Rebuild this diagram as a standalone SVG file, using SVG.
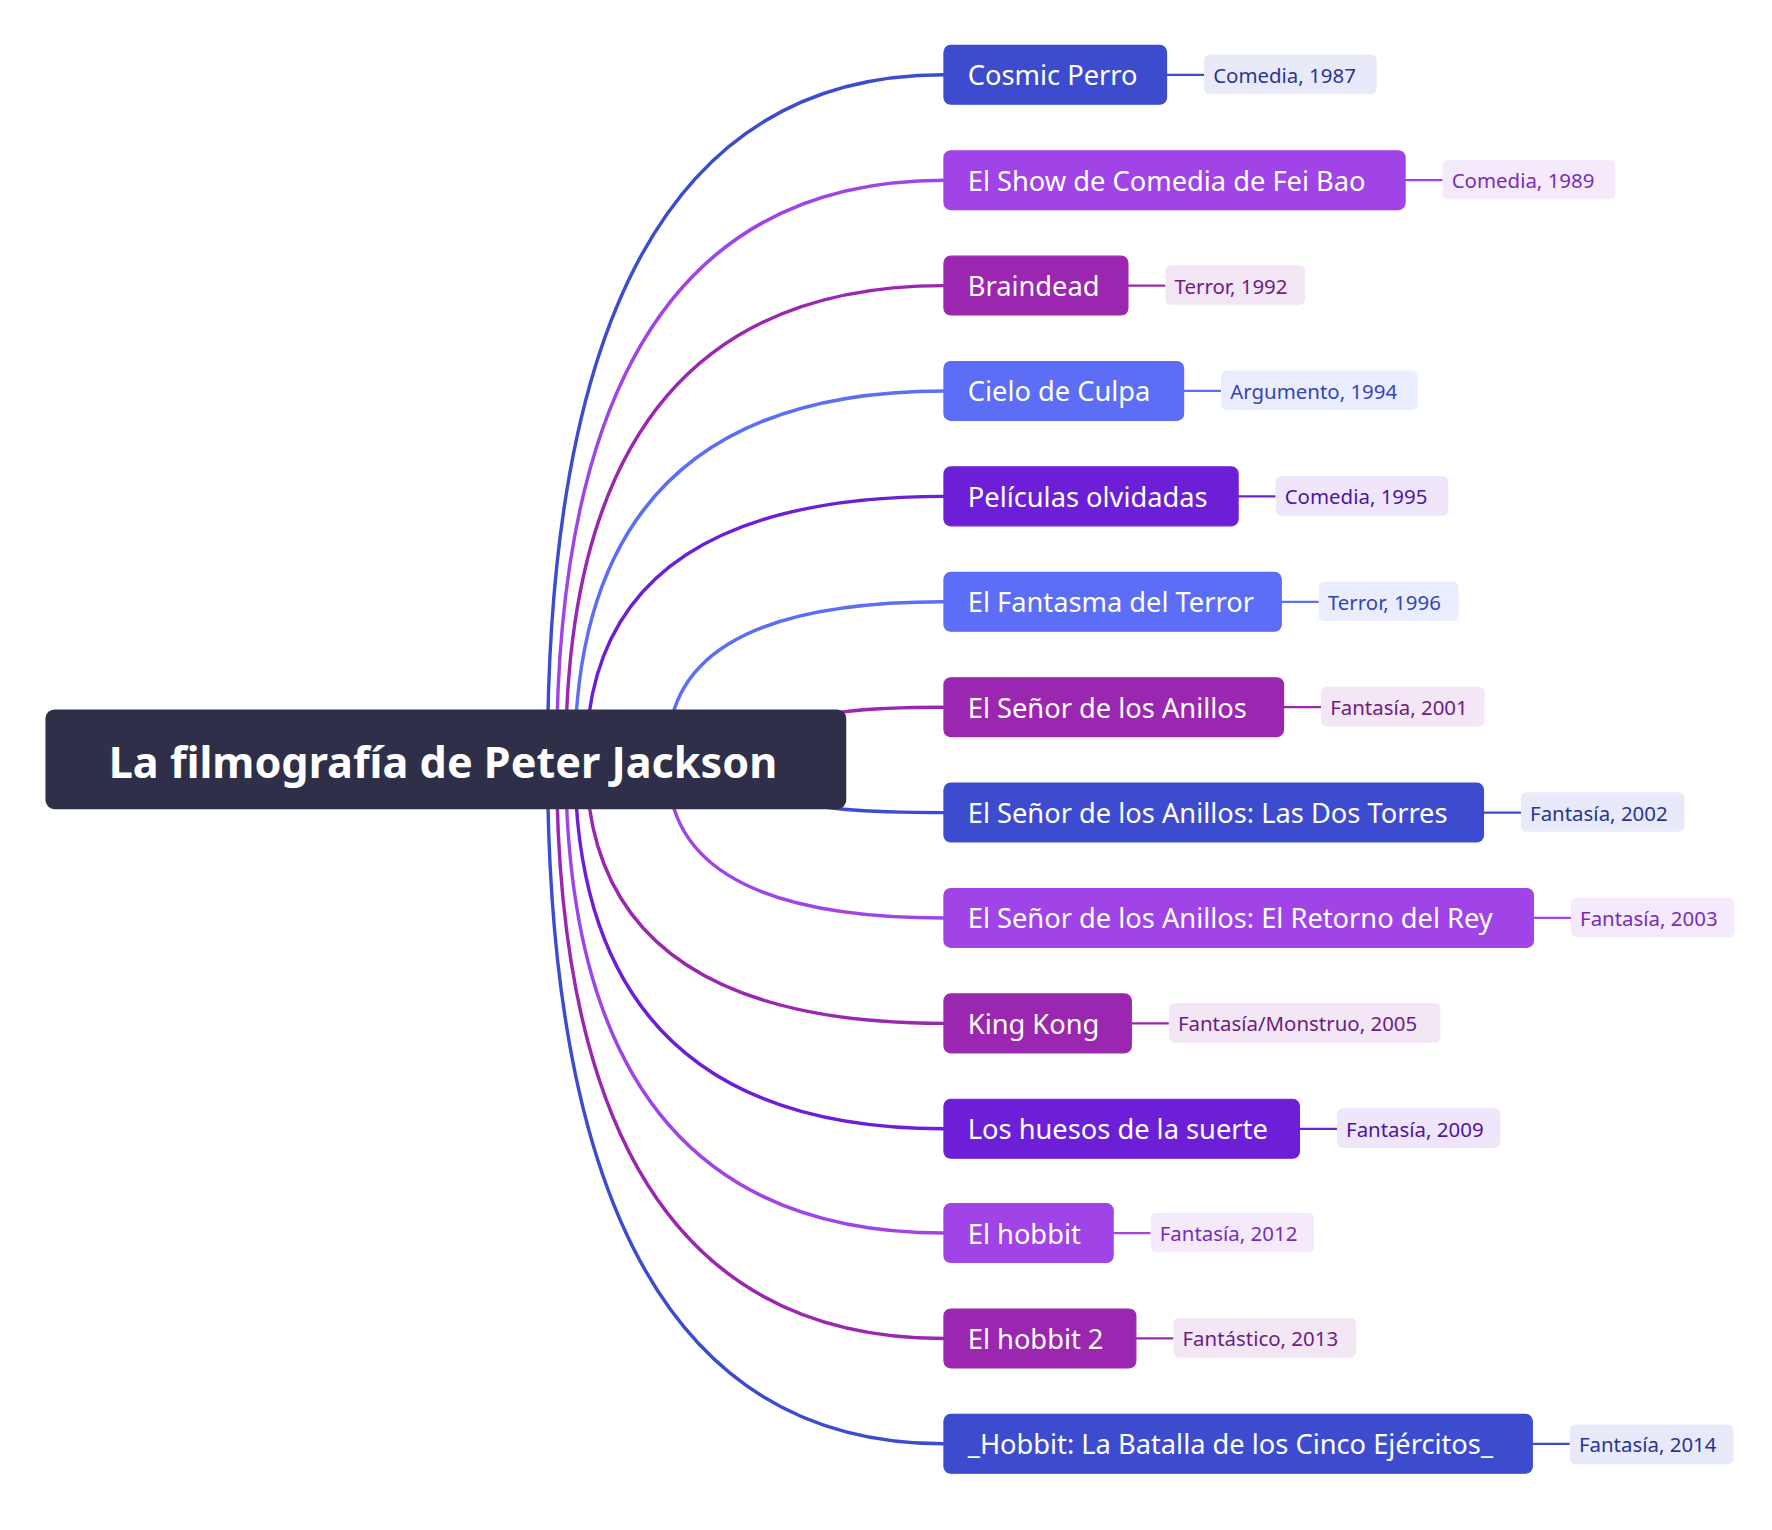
<svg xmlns="http://www.w3.org/2000/svg" width="1772" height="1530" viewBox="0 0 1772 1530">
<style>
.c{fill:none;stroke-width:3}
.nt{font-family:"Segoe UI","Noto Sans","Open Sans",sans-serif;font-size:24px;fill:#fff;dominant-baseline:central}
.lt{font-family:"Segoe UI","Noto Sans","Open Sans",sans-serif;font-size:18px;dominant-baseline:central}
.a{stroke:#3d4ccf;fill:#3d4ccf}.b{stroke:#a044e8;fill:#a044e8}.p{stroke:#9b27b0;fill:#9b27b0}.s{stroke:#5b6ef5;fill:#5b6ef5}.v{stroke:#6d1fd8;fill:#6d1fd8}
</style>
<rect width="1772" height="1530" fill="#fff"/>
<g transform="scale(1.1359 1.1333)">
<g id="connectors">
<path class="c" style="stroke:#3d4ccf" d="M482,670 Q482,66 831,66"/>
<path class="c" style="stroke:#a044e8" d="M490,670 Q490,159 831,159"/>
<path class="c" style="stroke:#9b27b0" d="M498,670 Q498,252 831,252"/>
<path class="c" style="stroke:#5b6ef5" d="M506,670 Q506,345 831,345"/>
<path class="c" style="stroke:#6d1fd8" d="M516,670 Q516,438 831,438"/>
<path class="c" style="stroke:#5b6ef5" d="M590,640 Q610,531 831,531"/>
<path class="c" style="stroke:#9b27b0" d="M700,640 Q720,624 831,624"/>
<path class="c" style="stroke:#3d4ccf" d="M700,705 Q720,717 831,717"/>
<path class="c" style="stroke:#a044e8" d="M590,700 Q610,810 831,810"/>
<path class="c" style="stroke:#9b27b0" d="M516,670 Q516,903 831,903"/>
<path class="c" style="stroke:#6d1fd8" d="M506,670 Q506,996 831,996"/>
<path class="c" style="stroke:#a044e8" d="M498,670 Q498,1088 831,1088"/>
<path class="c" style="stroke:#9b27b0" d="M490,670 Q490,1181 831,1181"/>
<path class="c" style="stroke:#3d4ccf" d="M482,670 Q482,1274 831,1274"/>
</g>
<g id="root"><rect x="40" y="626" width="705" height="88" rx="8" fill="#2f2f4a"/><text x="390" y="672" text-anchor="middle" font-family="'Segoe UI','Noto Sans','Open Sans',sans-serif" font-size="38" font-weight="bold" fill="#fff" dominant-baseline="central">La filmografía de Peter Jackson</text></g>
<g id="n1"><rect class="a" x="831" y="40" width="196" height="52" rx="6"/><text class="nt" x="852" y="66">Cosmic Perro</text><line class="a" x1="1027" y1="66" x2="1060" y2="66" stroke-width="2"/><rect x="1060" y="48" width="152" height="35" rx="5" fill="#e8eafa"/><text class="lt" x="1068" y="66" fill="#2a3590">Comedia, 1987</text></g>
<g id="n2"><rect class="b" x="831" y="133" width="406" height="52" rx="6"/><text class="nt" x="852" y="159">El Show de Comedia de Fei Bao</text><line class="b" x1="1237" y1="159" x2="1270" y2="159" stroke-width="2"/><rect x="1270" y="141" width="152" height="35" rx="5" fill="#f4eafc"/><text class="lt" x="1278" y="159" fill="#7a2cb8">Comedia, 1989</text></g>
<g id="n3"><rect class="p" x="831" y="226" width="162" height="52" rx="6"/><text class="nt" x="852" y="252">Braindead</text><line class="p" x1="993" y1="252" x2="1026" y2="252" stroke-width="2"/><rect x="1026" y="234" width="123" height="35" rx="5" fill="#f3e6f5"/><text class="lt" x="1034" y="252" fill="#6e1c80">Terror, 1992</text></g>
<g id="n4"><rect class="s" x="831" y="319" width="211" height="52" rx="6"/><text class="nt" x="852" y="345">Cielo de Culpa</text><line class="s" x1="1042" y1="345" x2="1075" y2="345" stroke-width="2"/><rect x="1075" y="327" width="173" height="35" rx="5" fill="#eaedfe"/><text class="lt" x="1083" y="345" fill="#3644b8">Argumento, 1994</text></g>
<g id="n5"><rect class="v" x="831" y="412" width="259" height="52" rx="6"/><text class="nt" x="852" y="438">Películas olvidadas</text><line class="v" x1="1090" y1="438" x2="1123" y2="438" stroke-width="2"/><rect x="1123" y="420" width="152" height="35" rx="5" fill="#efe6fb"/><text class="lt" x="1131" y="438" fill="#4f159e">Comedia, 1995</text></g>
<g id="n6"><rect class="s" x="831" y="505" width="297" height="52" rx="6"/><text class="nt" x="852" y="531">El Fantasma del Terror</text><line class="s" x1="1128" y1="531" x2="1161" y2="531" stroke-width="2"/><rect x="1161" y="513" width="123" height="35" rx="5" fill="#eaedfe"/><text class="lt" x="1169" y="531" fill="#3644b8">Terror, 1996</text></g>
<g id="n7"><rect class="p" x="831" y="598" width="299" height="52" rx="6"/><text class="nt" x="852" y="624">El Señor de los Anillos</text><line class="p" x1="1130" y1="624" x2="1163" y2="624" stroke-width="2"/><rect x="1163" y="606" width="144" height="35" rx="5" fill="#f3e6f5"/><text class="lt" x="1171" y="624" fill="#6e1c80">Fantasía, 2001</text></g>
<g id="n8"><rect class="a" x="831" y="691" width="475" height="52" rx="6"/><text class="nt" x="852" y="717">El Señor de los Anillos: Las Dos Torres</text><line class="a" x1="1306" y1="717" x2="1339" y2="717" stroke-width="2"/><rect x="1339" y="699" width="144" height="35" rx="5" fill="#e8eafa"/><text class="lt" x="1347" y="717" fill="#2a3590">Fantasía, 2002</text></g>
<g id="n9"><rect class="b" x="831" y="784" width="519" height="52" rx="6"/><text class="nt" x="852" y="810">El Señor de los Anillos: El Retorno del Rey</text><line class="b" x1="1350" y1="810" x2="1383" y2="810" stroke-width="2"/><rect x="1383" y="792" width="144" height="35" rx="5" fill="#f4eafc"/><text class="lt" x="1391" y="810" fill="#7a2cb8">Fantasía, 2003</text></g>
<g id="n10"><rect class="p" x="831" y="877" width="165" height="52" rx="6"/><text class="nt" x="852" y="903">King Kong</text><line class="p" x1="996" y1="903" x2="1029" y2="903" stroke-width="2"/><rect x="1029" y="885" width="239" height="35" rx="5" fill="#f3e6f5"/><text class="lt" x="1037" y="903" fill="#6e1c80">Fantasía/Monstruo, 2005</text></g>
<g id="n11"><rect class="v" x="831" y="970" width="313" height="52" rx="6"/><text class="nt" x="852" y="996">Los huesos de la suerte</text><line class="v" x1="1144" y1="996" x2="1177" y2="996" stroke-width="2"/><rect x="1177" y="978" width="144" height="35" rx="5" fill="#efe6fb"/><text class="lt" x="1185" y="996" fill="#4f159e">Fantasía, 2009</text></g>
<g id="n12"><rect class="b" x="831" y="1062" width="149" height="52" rx="6"/><text class="nt" x="852" y="1088">El hobbit</text><line class="b" x1="980" y1="1088" x2="1013" y2="1088" stroke-width="2"/><rect x="1013" y="1070" width="144" height="35" rx="5" fill="#f4eafc"/><text class="lt" x="1021" y="1088" fill="#7a2cb8">Fantasía, 2012</text></g>
<g id="n13"><rect class="p" x="831" y="1155" width="169" height="52" rx="6"/><text class="nt" x="852" y="1181">El hobbit 2</text><line class="p" x1="1000" y1="1181" x2="1033" y2="1181" stroke-width="2"/><rect x="1033" y="1163" width="161" height="35" rx="5" fill="#f3e6f5"/><text class="lt" x="1041" y="1181" fill="#6e1c80">Fantástico, 2013</text></g>
<g id="n14"><rect class="a" x="831" y="1248" width="518" height="52" rx="6"/><text class="nt" x="852" y="1274">_Hobbit: La Batalla de los Cinco Ejércitos_</text><line class="a" x1="1349" y1="1274" x2="1382" y2="1274" stroke-width="2"/><rect x="1382" y="1257" width="144" height="35" rx="5" fill="#e8eafa"/><text class="lt" x="1390" y="1274" fill="#2a3590">Fantasía, 2014</text></g>
</g>
</svg>
